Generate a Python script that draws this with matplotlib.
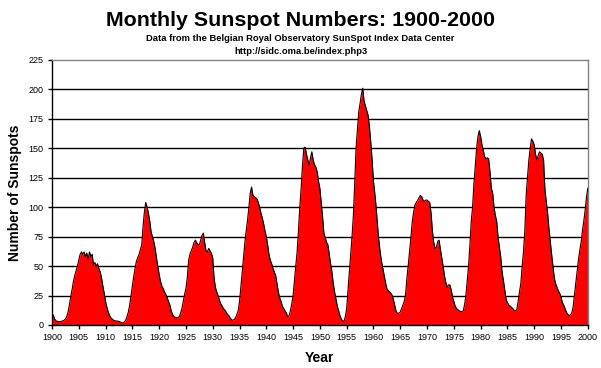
import numpy as np
import matplotlib
matplotlib.use("Agg")
import matplotlib.pyplot as plt

plt.rcParams['font.family'] = ['Liberation Sans', 'DejaVu Sans']

# smoothed monthly sunspot numbers at quarter-year steps
start_year = 1900
step = 0.25
sunspots = [
    10, 8, 5, 3.5,        # 1900
    3, 2.8, 2.8, 3,       # 1901
    3.5, 4, 5, 7,         # 1902
    11, 17, 24, 30,       # 1903
    37, 42, 46, 50,       # 1904
    55, 60, 62, 60,       # 1905
    62, 58, 61, 56,       # 1906
    62, 58, 60, 51,       # 1907
    53, 50, 52, 48,       # 1908
    45, 40, 33, 27,       # 1909
    20, 15, 11, 8,        # 1910
    6, 5, 4, 3.5,         # 1911
    3.4, 3.2, 3, 2.5,     # 1912
    2, 1.8, 2.5, 4,       # 1913
    7, 11, 17, 25,        # 1914
    33, 41, 48, 54,       # 1915
    57, 60, 64, 68,       # 1916
    84, 96, 104, 100,     # 1917
    95, 88, 79, 75,       # 1918
    71, 65, 57, 50,       # 1919
    43, 37, 33, 31,       # 1920
    28, 26, 23, 20,       # 1921
    17, 12, 9, 7,         # 1922
    6.5, 6, 6.2, 7,       # 1923
    10, 14, 20, 26,       # 1924
    31, 40, 55, 60,       # 1925
    63, 66, 70, 72,       # 1926
    70, 68, 68, 72,       # 1927
    76, 78, 70, 63,       # 1928
    62, 65, 63, 61,       # 1929
    57, 40, 32, 28,       # 1930
    25, 21, 18, 16,       # 1931
    14, 12.7, 11, 9,      # 1932
    8, 6, 4.5, 4,         # 1933
    4.5, 6, 9, 12,        # 1934
    20, 32, 45, 58,       # 1935
    70, 80, 89, 100,      # 1936
    112, 117, 110, 109,   # 1937
    108, 107, 104, 100,   # 1938
    95, 91, 86, 80,       # 1939
    75, 68, 60, 55,       # 1940
    52, 48, 45, 42,       # 1941
    35, 28, 23, 20,       # 1942
    16, 14, 12, 10,       # 1943
    7, 8, 12, 18,         # 1944
    25, 38, 50, 62,       # 1945
    80, 100, 116, 135,    # 1946
    150, 151, 145, 140,   # 1947
    136, 142, 147, 140,   # 1948
    136, 134, 130, 122,   # 1949
    116, 104, 92, 78,     # 1950
    74, 70, 68, 60,       # 1951
    52, 45, 35, 28,       # 1952
    22, 16, 12, 8,        # 1953
    5, 3.5, 3, 7,         # 1954
    14, 30, 45, 60,       # 1955
    75, 93, 120, 150,     # 1956
    165, 181, 188, 196,   # 1957
    201, 190, 186, 182,   # 1958
    178, 168, 155, 140,   # 1959
    122, 112, 100, 85,    # 1960
    72, 62, 54, 48,       # 1961
    42, 36, 31, 29,       # 1962
    28, 27, 25, 21,       # 1963
    16, 11, 10, 10,       # 1964
    11, 14, 17, 20,       # 1965
    26, 40, 51, 63,       # 1966
    75, 88, 96, 102,      # 1967
    104, 106, 108, 110,   # 1968
    109, 106, 105, 106,   # 1969
    106, 105, 104, 95,    # 1970
    80, 70, 65, 66,       # 1971
    71, 72, 64, 57,       # 1972
    50, 42, 36, 32,       # 1973
    34, 34, 30, 24,       # 1974
    20, 16, 14, 13,       # 1975
    12, 11.5, 11.3, 12,   # 1976
    17, 25, 38, 50,       # 1977
    68, 88, 100, 120,     # 1978
    135, 150, 160, 165,   # 1979
    160, 153, 148, 143,   # 1980
    141, 142, 141, 130,   # 1981
    116, 112, 100, 93,    # 1982
    88, 75, 66, 58,       # 1983
    45, 38, 30, 22,       # 1984
    19, 17, 16, 15,       # 1985
    14, 12.5, 12, 13,     # 1986
    20, 28, 35, 50,       # 1987
    62, 80, 110, 125,     # 1988
    140, 150, 158, 156,   # 1989
    153, 145, 140, 144,   # 1990
    147, 146, 145, 140,   # 1991
    115, 105, 95, 82,     # 1992
    71, 60, 50, 40,       # 1993
    35, 32, 29, 27,       # 1994
    24, 19, 17, 14,       # 1995
    11, 9, 8, 8.5,        # 1996
    10, 15, 25, 35,       # 1997
    45, 55, 63, 70,       # 1998
    80, 88, 97, 108,      # 1999
    116,                  # 2000
]
year_ticks = list(range(1900, 2001, 5))
y_ticks = list(range(0, 226, 25))

years = start_year + step * np.arange(len(sunspots))

fig = plt.figure(figsize=(6.01, 3.68), dpi=100)
ax = fig.add_axes([0.0865, 0.117, 0.8915, 0.72])

for y in y_ticks[1:-1]:
    ax.axhline(y, color='black', lw=1, zorder=1)
ax.fill_between(years, sunspots, 0, color='#ff0000', lw=0, zorder=2)
ax.plot(years, sunspots, color='black', lw=0.8, zorder=3)

ax.set_xlim(1900, 2000)
ax.set_ylim(0, 225)
ax.set_xticks(year_ticks)
ax.set_yticks(y_ticks)
ax.tick_params(labelsize=6.5, length=3, width=1, direction='out', pad=3)

ax.spines['left'].set_color('black')
ax.spines['bottom'].set_color('black')
ax.spines['top'].set_color('#808080')
ax.spines['right'].set_color('#808080')
for s in ax.spines.values():
    s.set_linewidth(1)

ax.set_xlabel("Year", fontsize=10, fontweight='bold', labelpad=6)
ax.set_ylabel("Number of Sunspots", fontsize=10, fontweight='bold', labelpad=5)

fig.text(0.5, 1 - 26 / 368, "Monthly Sunspot Numbers: 1900-2000",
         ha='center', va='baseline', fontsize=15.4, fontweight='bold')
fig.text(0.5, 1 - 41 / 368, "Data from the Belgian Royal Observatory SunSpot Index Data Center",
         ha='center', va='baseline', fontsize=6.75, fontweight='bold')
fig.text(0.5, 1 - 54 / 368, "http://sidc.oma.be/index.php3",
         ha='center', va='baseline', fontsize=6.75, fontweight='bold')

fig.savefig("out.png", dpi=100)
